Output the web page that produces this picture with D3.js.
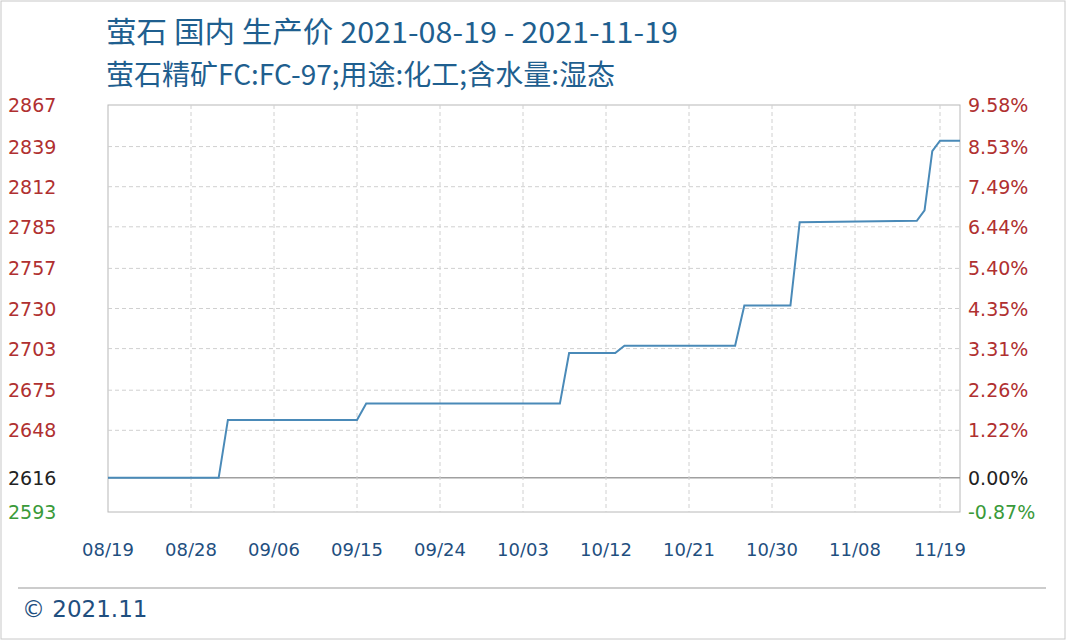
<!DOCTYPE html><html><head><meta charset="utf-8">
<script src="https://cdn.jsdelivr.net/npm/d3@7"></script>
<style>body{margin:0;background:#fff}</style></head><body>
<svg id="c" width="1066" height="640"></svg>
<script>
const title = "萤石 国内 生产价 2021-08-19 - 2021-11-19";
const subtitle = "萤石精矿FC:FC-97;用途:化工;含水量:湿态";
const leftTicks = [2867,2839,2812,2785,2757,2730,2703,2675,2648,2616,2593];
const rightTicks = ["9.58%","8.53%","7.49%","6.44%","5.40%","4.35%","3.31%","2.26%","1.22%","0.00%","-0.87%"];
const xTicks = ["2021-08-19","2021-08-28","2021-09-06","2021-09-15","2021-09-24","2021-10-03","2021-10-12","2021-10-21","2021-10-30","2021-11-08","2021-11-19"];
const dates = ["2021-08-19","2021-08-31","2021-09-01","2021-09-15","2021-09-16","2021-10-07","2021-10-08","2021-10-13","2021-10-14","2021-10-26","2021-10-27","2021-11-01","2021-11-02","2021-11-16","2021-11-17","2021-11-18","2021-11-19","2021-11-21"];
const prices = [2616,2616,2655,2655,2666,2666,2700,2700,2705,2705,2732,2732,2788,2789,2796,2836,2843,2843];

const svg = d3.select("#c");
const p = d3.timeParse("%Y-%m-%d");
const L=108,R=960,T=105,B=512;
const x = d3.scaleTime().domain([...xTicks,"2021-11-21"].map(p)).range([108,191,274,357,440,523,606,689,772,855,940,960]);
const y = d3.scaleLinear().domain([2593,2867]).range([B,T]);
const font="'Noto Sans CJK SC','Noto Sans',sans-serif";
svg.append("rect").attr("x",1).attr("y",1).attr("width",1064).attr("height",638).attr("fill","none").attr("stroke","#c8c8c8");
svg.append("text").attr("x",106).attr("y",43).attr("font-size",29).attr("fill","#1f5f8f").attr("font-family",font).attr("textLength",572).attr("lengthAdjust","spacingAndGlyphs").text(title);
svg.append("text").attr("x",106).attr("y",85).attr("font-size",28).attr("fill","#1f5f8f").attr("font-family",font).text(subtitle);
svg.append("rect").attr("x",L).attr("y",T).attr("width",R-L).attr("height",B-T).attr("fill","none").attr("stroke","#b8b8b8");
const g=svg.append("g");
leftTicks.forEach((v,i)=>{
  const yy=y(v);
  if(v!==2593 && v!==2867) g.append("line").attr("x1",L).attr("x2",R).attr("y1",yy).attr("y2",yy)
    .attr("stroke",v===2616?"#a0a0a0":"#d0d0d0").attr("stroke-dasharray",v===2616?null:"4,3").attr("stroke-width",v===2616?1.5:1);
  const col = v===2593?"#3a9a3a":(v===2616?"#222":"#b03030");
  svg.append("text").attr("x",8).attr("y",yy+7).attr("font-size",19).attr("fill",col).attr("font-family","'DejaVu Sans',sans-serif").text(v);
  svg.append("text").attr("x",968).attr("y",yy+7).attr("font-size",19).attr("fill",i===10?"#3a9a3a":(i===9?"#222":"#b03030")).attr("font-family","'DejaVu Sans',sans-serif").text(rightTicks[i]);
});
const fmt=d3.timeFormat("%m/%d");
xTicks.forEach((d,i)=>{
  const xx=x(p(d));
  if(i>0) g.append("line").attr("x1",xx).attr("x2",xx).attr("y1",T).attr("y2",B).attr("stroke","#d0d0d0").attr("stroke-dasharray","4,3");
  svg.append("text").attr("x",xx).attr("y",556).attr("text-anchor","middle").attr("font-size",18).attr("fill","#1f4f7f").attr("font-family","'DejaVu Sans',sans-serif").text(fmt(p(d)));
});
const data=dates.map((d,i)=>({d:p(d),v:prices[i]}));
svg.append("path").datum(data).attr("fill","none").attr("stroke","#4a8ab8").attr("stroke-width",2)
  .attr("d",d3.line().x(e=>x(e.d)).y(e=>y(e.v)));
svg.append("line").attr("x1",18).attr("x2",1046).attr("y1",588).attr("y2",588).attr("stroke","#999");
svg.append("text").attr("x",22).attr("y",617).attr("font-size",23).attr("fill","#1f4f7f").attr("font-family","'DejaVu Sans',sans-serif").text("© 2021.11");
</script></body></html>
